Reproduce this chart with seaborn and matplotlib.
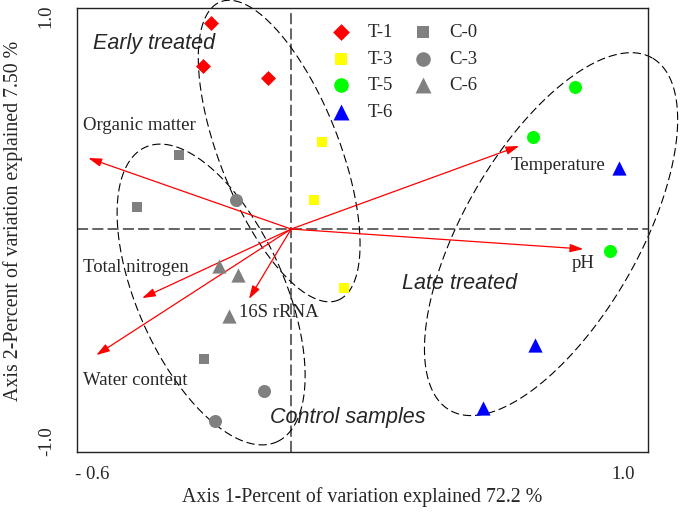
import numpy as np
import pandas as pd
import matplotlib
matplotlib.use("Agg")
import matplotlib.pyplot as plt
import seaborn as sns

# sample scores (axis 1, axis 2)
groups = ["T-1", "T-3", "T-5", "T-6", "C-0", "C-3", "C-6"]
axis1 = {
    "T-1": [-0.241, -0.265, -0.069],
    "T-3": [0.093, 0.069, 0.160],
    "T-5": [0.855, 0.729, 0.961],
    "T-6": [0.988, 0.735, 0.578],
    "C-0": [-0.337, -0.464, -0.262],
    "C-3": [-0.166, -0.081, -0.229],
    "C-6": [-0.217, -0.160, -0.187],
}
axis2 = {
    "T-1": [0.969, 0.767, 0.711],
    "T-3": [0.409, 0.136, -0.278],
    "T-5": [0.668, 0.433, -0.104],
    "T-6": [0.287, -0.546, -0.842],
    "C-0": [0.348, 0.104, -0.612],
    "C-3": [0.136, -0.762, -0.904],
    "C-6": [-0.174, -0.216, -0.409],
}

# environmental factor arrows
factors = ["Organic matter", "Temperature", "pH", "Total nitrogen", "Water content", "16S rRNA"]
factor_x = [-0.611, 0.687, 0.880, -0.449, -0.587, -0.127]
factor_y = [0.334, 0.391, -0.094, -0.325, -0.593, -0.329]

colors = {"T-1": "#ff0000", "T-3": "#ffff00", "T-5": "#00ff00", "T-6": "#0000ff",
          "C-0": "#808080", "C-3": "#808080", "C-6": "#808080"}
markers = {"T-1": "D", "T-3": "s", "T-5": "o", "T-6": "^",
           "C-0": "s", "C-3": "o", "C-6": "^"}
sizes = {"D": 58, "s": 58, "o": 88, "^": 105}

sns.set_style("white")
plt.rcParams["font.family"] = ["Liberation Serif", "DejaVu Serif"]
plt.rcParams["lines.scale_dashes"] = False

fig = plt.figure(figsize=(6.8, 5.14), dpi=100)
ax = fig.add_axes([77 / 680, 1 - 452 / 514, 571 / 680, 444 / 514])
ax.set_xlim(-0.645, 1.075)
ax.set_ylim(-1.049, 1.040)

ax.axhline(0, color="#3a3a3a", lw=1.1, dashes=(8, 3), zorder=1)
ax.axvline(0, color="#3a3a3a", lw=1.1, dashes=(8, 3), zorder=1)

# confidence ellipses: centre (data), semi axes (axis-1 units), angle on screen
ellipses = [(-0.036, 0.367, 0.483, 0.180, -68.5),
            (-0.241, -0.308, 0.486, 0.222, -66.0),
            (0.783, -0.024, 0.612, 0.264, 60.1)]
r = (444 / (1.040 + 1.049)) / (571 / (1.075 + 0.645))
t = np.linspace(0, 2 * np.pi, 300)
for cx, cy, a, b, ang in ellipses:
    th = np.deg2rad(ang)
    dx = a * np.cos(t) * np.cos(th) - b * np.sin(t) * np.sin(th)
    dy = a * np.cos(t) * np.sin(th) + b * np.sin(t) * np.cos(th)
    ax.plot(cx + dx, cy + dy / r, color="black", lw=0.8, dashes=(6, 2.8),
            clip_on=False, zorder=2)

for fx, fy in zip(factor_x, factor_y):
    ax.annotate("", xy=(fx, fy), xytext=(0, 0),
                arrowprops=dict(arrowstyle="-|>,head_length=0.8,head_width=0.25",
                                color="red", lw=0.9, mutation_scale=10,
                                shrinkA=0, shrinkB=0), zorder=3)

label_pos = {"Organic matter": (-0.627, 0.485, "left"),
             "Temperature": (0.660, 0.301, "left"),
             "pH": (0.880, -0.160, "center"),
             "Total nitrogen": (-0.627, -0.179, "left"),
             "Water content": (-0.627, -0.711, "left"),
             "16S rRNA": (-0.157, -0.395, "left")}
for name in factors:
    lx, ly, ha = label_pos[name]
    ax.text(lx, ly, name, ha=ha, va="center", fontsize=13.5, zorder=4)

for g in groups:
    sns.scatterplot(x=axis1[g], y=axis2[g], color=colors[g], marker=markers[g],
                    s=sizes[markers[g]], linewidth=0, label=g, ax=ax, zorder=5)

sans = dict(family="Liberation Sans", style="italic", fontsize=15.5)
ax.text(-0.596, 0.875, "Early treated", ha="left", va="center", **sans)
ax.text(0.334, -0.254, "Late treated", ha="left", va="center", **sans)
ax.text(-0.063, -0.889, "Control samples", ha="left", va="center", **sans)

ax.legend(ncol=2, frameon=False, loc="upper left", bbox_to_anchor=(0.446, 0.964),
          borderpad=0, borderaxespad=0, handlelength=1.0, handletextpad=0.9,
          columnspacing=1.1, labelspacing=0.5, markerscale=1.12, fontsize=13.5)

ax.set_xticks([-0.6, 1.0])
ax.set_xticklabels(["- 0.6", "1.0"], fontsize=13.5)
ax.set_yticks([-1.0, 1.0])
ax.set_yticklabels(["-1.0", "1.0"], fontsize=13.5, rotation=90, va="center")
ax.tick_params(axis="x", length=0, pad=10)
ax.tick_params(axis="y", length=0, pad=16)

ax.set_xlabel("Axis 1-Percent of variation explained 72.2 %", fontsize=14.3)
ax.set_ylabel("Axis 2-Percent of variation explained 7.50 %", fontsize=14.3)
ax.xaxis.set_label_coords(0.5, -0.08)
ax.yaxis.set_label_coords(-0.095, 0.52)

for sp in ax.spines.values():
    sp.set_color("#222222")
    sp.set_linewidth(1.0)

fig.savefig("out.png", dpi=100)
